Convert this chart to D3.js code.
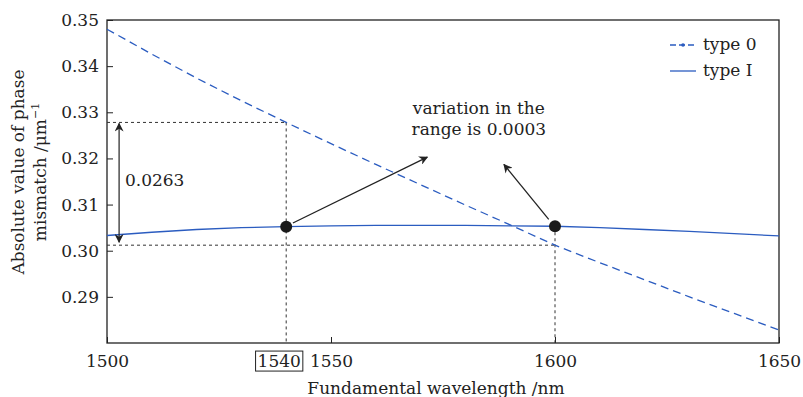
<!DOCTYPE html>
<html>
<head>
<meta charset="utf-8">
<script src="https://cdn.jsdelivr.net/npm/d3@7"></script>
<style>
  body { margin: 0; background: #fff; }
  text { font-family: "DejaVu Serif", "Liberation Serif", serif; fill: #222; }
</style>
</head>
<body>
<svg id="chart" width="803" height="397"></svg>
<script>
// wavelength (nm)
const wavelengths = [1500, 1510, 1520, 1530, 1540, 1550, 1560, 1570, 1580, 1590, 1600, 1610, 1620, 1630, 1640, 1650];
// |phase mismatch| for each type
const type0 = [0.3480, 0.3426, 0.3374, 0.3325, 0.3278, 0.3232, 0.3187, 0.3143, 0.3099, 0.3056, 0.3012, 0.2974, 0.2937, 0.2900, 0.2864, 0.2828];
const type1 = [0.3033, 0.3040, 0.3046, 0.3050, 0.3052, 0.3054, 0.3055, 0.3055, 0.3055, 0.3054, 0.3053, 0.3050, 0.3046, 0.3042, 0.3037, 0.3032];
const xTicks = [1500, 1550, 1600, 1650];
const yTicks = [0.29, 0.30, 0.31, 0.32, 0.33, 0.34, 0.35];
// marked points
const markedPoints = [[1540, 0.3052], [1600, 0.3053]];
const refTop = [1540, 0.3278];
const refBottom = [1600, 0.3012];

const blue = "#2b5cc0";
const fs = "17px";
const svg = d3.select("#chart");
const margin = { left: 107, right: 24, top: 20, bottom: 54 };
const width = 803 - margin.left - margin.right;
const height = 397 - margin.top - margin.bottom;

const x = d3.scaleLinear().domain([1500, 1650]).range([0, width]);
const y = d3.scaleLinear().domain([0.28, 0.35]).range([height, 0]);

const defs = svg.append("defs");
defs.append("marker")
    .attr("id", "arrow")
    .attr("viewBox", "0 0 10 10")
    .attr("refX", 9).attr("refY", 5)
    .attr("markerWidth", 9).attr("markerHeight", 9)
    .attr("markerUnits", "userSpaceOnUse")
    .attr("orient", "auto-start-reverse")
    .append("path")
    .attr("d", "M0,0 L10,5 L0,10 L3,5 Z")
    .attr("fill", "#222");

const g = svg.append("g").attr("transform", `translate(${margin.left},${margin.top})`);

// axes
const xAxis = g.append("g")
    .attr("transform", `translate(0,${height})`)
    .call(d3.axisBottom(x).tickValues(xTicks).tickSize(-6).tickPadding(12).tickFormat(d3.format("d")));
const yAxis = g.append("g")
    .call(d3.axisLeft(y).tickValues(yTicks).tickSize(-6).tickPadding(8).tickFormat(d3.format(".2f")));
[xAxis, yAxis].forEach(a => {
    a.select(".domain").remove();
    a.selectAll(".tick line").attr("stroke", "#222");
    a.selectAll(".tick text").style("font-size", fs).attr("fill", "#222");
});
xAxis.selectAll(".tick text").attr("dy", "0.71em");

g.append("rect")
    .attr("width", width).attr("height", height)
    .attr("fill", "none").attr("stroke", "#222").attr("stroke-width", 1.3);

// reference dashed lines
const refLines = [
    [[1500, refTop[1]], refTop],
    [refTop, [1540, 0.28]],
    [[1500, refBottom[1]], refBottom],
    [[1600, markedPoints[1][1]], [1600, 0.28]]
];
refLines.forEach(([a, b]) => {
    g.append("line")
        .attr("x1", x(a[0])).attr("y1", y(a[1]))
        .attr("x2", x(b[0])).attr("y2", y(b[1]))
        .attr("stroke", "#333").attr("stroke-width", 1)
        .attr("stroke-dasharray", "3,3");
});

// curves
const line = d3.line().x((d, i) => x(wavelengths[i])).y(d => y(d));
g.append("path").datum(type0)
    .attr("d", line).attr("fill", "none")
    .attr("stroke", blue).attr("stroke-width", 1.3)
    .attr("stroke-dasharray", "8,5");
g.append("path").datum(type1)
    .attr("d", line).attr("fill", "none")
    .attr("stroke", blue).attr("stroke-width", 1.3);

// double arrow for the difference
g.append("line")
    .attr("x1", x(1502.7)).attr("y1", y(refTop[1]) + 1)
    .attr("x2", x(1502.7)).attr("y2", y(refBottom[1]) - 3)
    .attr("stroke", "#222").attr("stroke-width", 1.2)
    .attr("marker-start", "url(#arrow)").attr("marker-end", "url(#arrow)");
g.append("text")
    .attr("x", x(1504)).attr("y", y(0.3140))
    .style("font-size", fs).text("0.0263");

// marked dots + pointers
g.selectAll(".dot").data(markedPoints).enter().append("circle")
    .attr("cx", d => x(d[0])).attr("cy", d => y(d[1]))
    .attr("r", 6).attr("fill", "#1a1a1a");

g.append("line")
    .attr("x1", x(1541.5)).attr("y1", y(0.3060))
    .attr("x2", x(1571.5)).attr("y2", y(0.3203))
    .attr("stroke", "#222").attr("stroke-width", 1.3)
    .attr("marker-end", "url(#arrow)");
g.append("line")
    .attr("x1", x(1598.6)).attr("y1", y(0.3068))
    .attr("x2", x(1588.6)).attr("y2", y(0.3187))
    .attr("stroke", "#222").attr("stroke-width", 1.3)
    .attr("marker-end", "url(#arrow)");

const note = g.append("text")
    .attr("text-anchor", "middle")
    .style("font-size", fs);
note.append("tspan").attr("x", x(1583)).attr("y", y(0.3297)).text("variation in the");
note.append("tspan").attr("x", x(1583)).attr("y", y(0.3250)).text("range is 0.0003");

// boxed 1540 label
const boxLabel = g.append("text")
    .attr("x", x(1540) - 7).attr("y", height + 12)
    .attr("dy", "0.71em")
    .attr("text-anchor", "middle")
    .style("font-size", fs).text("1540");
const bb = boxLabel.node().getBBox();
g.append("rect")
    .attr("x", bb.x - 2).attr("y", bb.y)
    .attr("width", bb.width + 4).attr("height", bb.height)
    .attr("fill", "none").attr("stroke", "#222").attr("stroke-width", 1);

// legend
const legend = g.append("g").attr("transform", `translate(${width - 109},${25})`);
const legendItems = [["type 0", "6,3"], ["type \u2160", null]];
legendItems.forEach(([label, dash], i) => {
    const row = legend.append("g").attr("transform", `translate(0,${i * 26})`);
    row.append("line")
        .attr("x1", 0).attr("x2", 26).attr("y1", 0).attr("y2", 0)
        .attr("stroke", blue).attr("stroke-width", 1.3)
        .attr("stroke-dasharray", dash);
    if (dash) row.append("circle").attr("cx", 13).attr("cy", 0).attr("r", 1.8).attr("fill", blue);
    row.append("text").attr("x", 33).attr("y", 0).attr("dy", "0.32em")
        .style("font-size", fs).text(label);
});

// axis titles
svg.append("text")
    .attr("transform", `translate(${margin.left + width / 2 - 7},394)`)
    .attr("text-anchor", "middle")
    .style("font-size", fs).text("Fundamental wavelength /nm");
const yTitle = svg.append("text")
    .attr("transform", `translate(24,${margin.top + 152}) rotate(-90)`)
    .attr("text-anchor", "middle")
    .style("font-size", fs);
yTitle.append("tspan").attr("x", 0).attr("y", 0).text("Absolute value of phase");
yTitle.append("tspan").attr("x", 0).attr("y", 22).text("mismatch /\u03bcm")
    .append("tspan").attr("dy", -7).style("font-size", "11px").text("\u22121");
</script>
</body>
</html>
